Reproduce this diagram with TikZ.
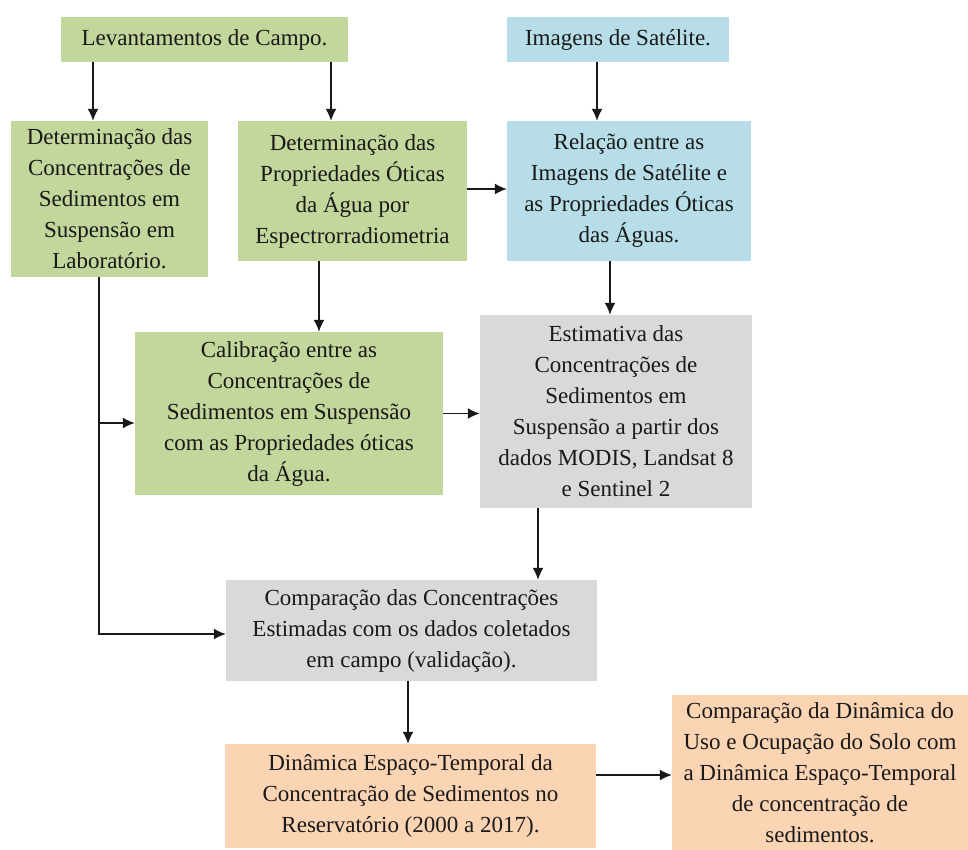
\documentclass[tikz,border=0pt]{standalone}
\usepackage{fontspec}
\setmainfont{Liberation Serif}
\usetikzlibrary{arrows.meta,positioning}
\definecolor{fieldgreen}{HTML}{C3D69B}
\definecolor{satblue}{HTML}{B7DEE8}
\definecolor{estgray}{HTML}{D9D9D9}
\definecolor{dynpeach}{HTML}{FBD4B4}
\tikzset{
    box/.style ={
        shape=rectangle,
        inner sep=0pt,
        align=center,
        text=black!90,
        font=\fontsize{23}{31}\selectfont
    },
    fieldbox/.style ={box, fill=fieldgreen},
    satbox/.style ={box, fill=satblue},
    estbox/.style ={box, fill=estgray},
    dynbox/.style ={box, fill=dynpeach},
    arrow/.style ={
        -{Latex[length=12pt,width=11pt]},
        line width=1.5pt,
        black!90
    }
}

\begin{document}
\begin{tikzpicture}[x=1pt,y=-1pt]
        \useasboundingbox (0,0) rectangle (968,850);
        \node[fieldbox, minimum width=287pt, minimum height=45pt] (lev) at(204.5,39.5) {Levantamentos de Campo.};
        \node[satbox, minimum width=222pt, minimum height=45pt] (img) at(618,39.5) {Imagens de Satélite.};
        \node[fieldbox, minimum width=197pt, minimum height=156pt] (detc) at(109.5,199) {Determinação das\\Concentrações de\\Sedimentos em\\Suspensão em\\Laboratório.};
        \node[fieldbox, minimum width=229pt, minimum height=140pt] (detp) at(352.5,191) {Determinação das\\Propriedades Óticas\\da Água por\\Espectrorradiometria};
        \node[satbox, minimum width=244pt, minimum height=140pt] (rel) at(629,191) {Relação entre as\\Imagens de Satélite e\\as Propriedades Óticas\\das Águas.};
        \node[fieldbox, minimum width=308pt, minimum height=163pt] (cal) at(289,413.5) {Calibração entre as\\Concentrações de\\Sedimentos em Suspensão\\com as Propriedades óticas\\da Água.};
        \node[estbox, minimum width=272pt, minimum height=193pt] (est) at(616,411.5) {Estimativa das\\Concentrações de\\Sedimentos em\\Suspensão a partir dos\\dados MODIS, Landsat 8\\e Sentinel 2};
        \node[estbox, minimum width=371pt, minimum height=101pt] (comp) at(411.5,630.5) {Comparação das Concentrações\\Estimadas com os dados coletados\\em campo (validação).};
        \node[dynbox, minimum width=371pt, minimum height=104pt] (din) at(410.5,796) {Dinâmica Espaço-Temporal da\\Concentração de Sedimentos no\\Reservatório (2000 a 2017).};
        \node[dynbox, minimum width=296pt, minimum height=155pt] (fin) at(820,772.5) {Comparação da Dinâmica do\\Uso e Ocupação do Solo com\\a Dinâmica Espaço-Temporal\\de concentração de\\sedimentos.};
        \coordinate (trunk) at ([xshift=-10.5pt]detc.south);
        % top row
        \draw[arrow] ([xshift=-16.5pt]detc.north |- lev.south) -- ([xshift=-16.5pt]detc.north);
        \draw[arrow] ([xshift=-21.5pt]detp.north |- lev.south) -- ([xshift=-21.5pt]detp.north);
        \draw[arrow] ([xshift=-32pt]rel.north |- img.south) -- ([xshift=-32pt]rel.north);
        \draw[arrow] ([yshift=2pt]detp.east) -- ([yshift=2pt]detp.east -| rel.west);
        % middle row
        \draw[arrow] ([xshift=-33.5pt]detp.south) -- ([xshift=-33.5pt]detp.south |- cal.north);
        \draw[arrow] ([xshift=-19pt]rel.south) -- ([xshift=-19pt]rel.south |- est.north);
        \draw[arrow] (cal.east) -- (cal.east -| est.west);
        \draw[arrow] ([yshift=-9.5pt]cal.west -| trunk) -- ([yshift=-9.5pt]cal.west);
        \draw[arrow] (trunk) |- ([yshift=-3.5pt]comp.west);
        % bottom row
        \draw[arrow] ([xshift=-78pt]est.south) -- ([xshift=-78pt]est.south |- comp.north);
        \draw[arrow] ([xshift=-3.5pt]comp.south) -- ([xshift=-3.5pt]comp.south |- din.north);
        \draw[arrow] ([yshift=-2.5pt]fin.west -| din.east) -- ([yshift=-2.5pt]fin.west);
    \end{tikzpicture}
\end{document}
